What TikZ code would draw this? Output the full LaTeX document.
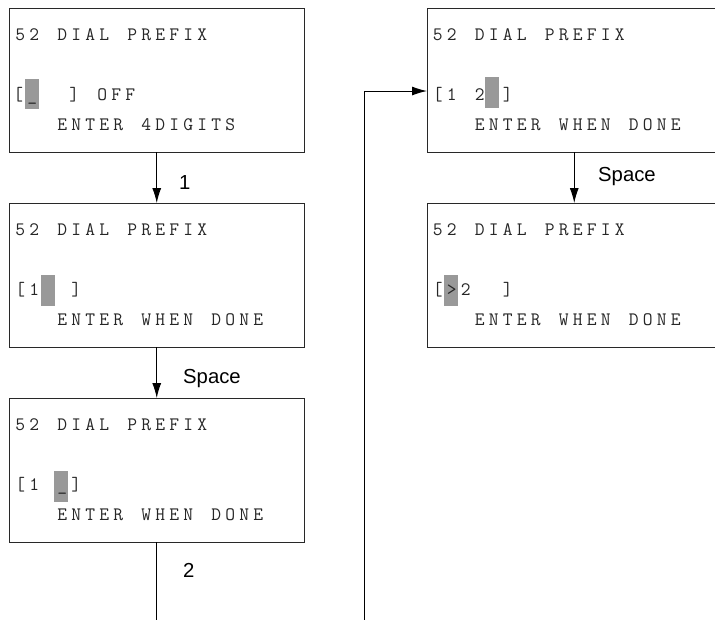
\documentclass[tikz,border=0pt]{standalone}
\usepackage{fontspec}
\setmainfont{Liberation Sans}
\usetikzlibrary{arrows.meta}
\definecolor{hl}{RGB}{153,153,153}
\definecolor{ln}{RGB}{40,40,40}
\makeatletter
\newcommand\lcdrow[1]{\lcd@scan#1\relax}
\def\lcd@scan#1{\ifx#1\relax\else\makebox[14pt][c]{#1}\expandafter\lcd@scan\fi}
\makeatother
\tikzset{
  screen/.style={draw=ln, line width=1pt, minimum width=294.5pt, minimum height=144pt, inner sep=0pt, outer sep=0pt, anchor=north west},
  lcd/.style={anchor=base west, inner sep=0pt, text=black!85, font=\fontsize{19}{19}\selectfont\ttfamily},
  lbl/.style={anchor=base west, inner sep=0pt, font=\fontsize{20.3}{20.3}\selectfont},
  arr/.style={draw=black, line width=1pt, -{Latex[length=15pt,width=9pt]}},
  wire/.style={draw=black, line width=1pt}
}
\begin{document}
\begin{tikzpicture}[x=1pt,y=-1pt]
\useasboundingbox (0,0) rectangle (715,619);
\clip (0,0) rectangle (715,619);
% boxes
\node[screen] (b1) at (9.5,8) {};
\node[screen] (b2) at (9.5,203) {};
\node[screen] (b3) at (9.5,398) {};
\node[screen] (r1) at (427,8) {};
\node[screen] (r2) at (427,203) {};
% highlights
\fill[hl] (25,79) rectangle (39,109);
\fill[hl] (41,275) rectangle (55,306);
\fill[hl] (54,471) rectangle (68,502);
\fill[hl] (485,77) rectangle (499,108);
\fill[hl] (444,275) rectangle (458,306);
% box 1
\node[lcd] (b1a) at (13,40.7) {\lcdrow{52~DIAL~PREFIX}};
\node[lcd] (b1b) at (11,100.7) {\lcdrow{[\_~~]~OFF}};
\node[lcd] (b1c) at (13,130) {\lcdrow{~~~ENTER~4DIGITS}};
% box 2
\node[lcd] (b2a) at (13,235.7) {\lcdrow{52~DIAL~PREFIX}};
\node[lcd] (b2b) at (13,295.7) {\lcdrow{[1~~]}};
\node[lcd] (b2c) at (13,325) {\lcdrow{~~~ENTER~WHEN~DONE}};
% box 3
\node[lcd] (b3a) at (13,430.7) {\lcdrow{52~DIAL~PREFIX}};
\node[lcd] (b3b) at (13,490.7) {\lcdrow{[1~\_]}};
\node[lcd] (b3c) at (13,520) {\lcdrow{~~~ENTER~WHEN~DONE}};
% right 1
\node[lcd] (r1a) at (430.5,40.7) {\lcdrow{52~DIAL~PREFIX}};
\node[lcd] (r1b) at (430.5,100.7) {\lcdrow{[1~2~]}};
\node[lcd] (r1c) at (430.5,130) {\lcdrow{~~~ENTER~WHEN~DONE}};
% right 2
\node[lcd] (r2a) at (430.5,235.7) {\lcdrow{52~DIAL~PREFIX}};
\node[lcd] (r2b) at (430.5,295.7) {\lcdrow{[>2~~]}};
\node[lcd] (r2c) at (430.5,325) {\lcdrow{~~~ENTER~WHEN~DONE}};
% connectors
\coordinate (e1) at (156.75,625);
\coordinate (e2) at (364,625);
\draw[arr] (b1.south) -- (b2.north);
\draw[arr] (b2.south) -- (b3.north);
\draw[wire] (b3.south) -- (e1);
\draw[arr] (e2) |- ([yshift=-11pt]r1.west);
\draw[arr] (r1.south) -- (r2.north);
% labels
\node[lbl] (l1) at (179,189) {1};
\node[lbl] (l2) at (183,383) {Space};
\node[lbl] (l3) at (183,577) {2};
\node[lbl] (l4) at (598,181) {Space};
\end{tikzpicture}
\end{document}
